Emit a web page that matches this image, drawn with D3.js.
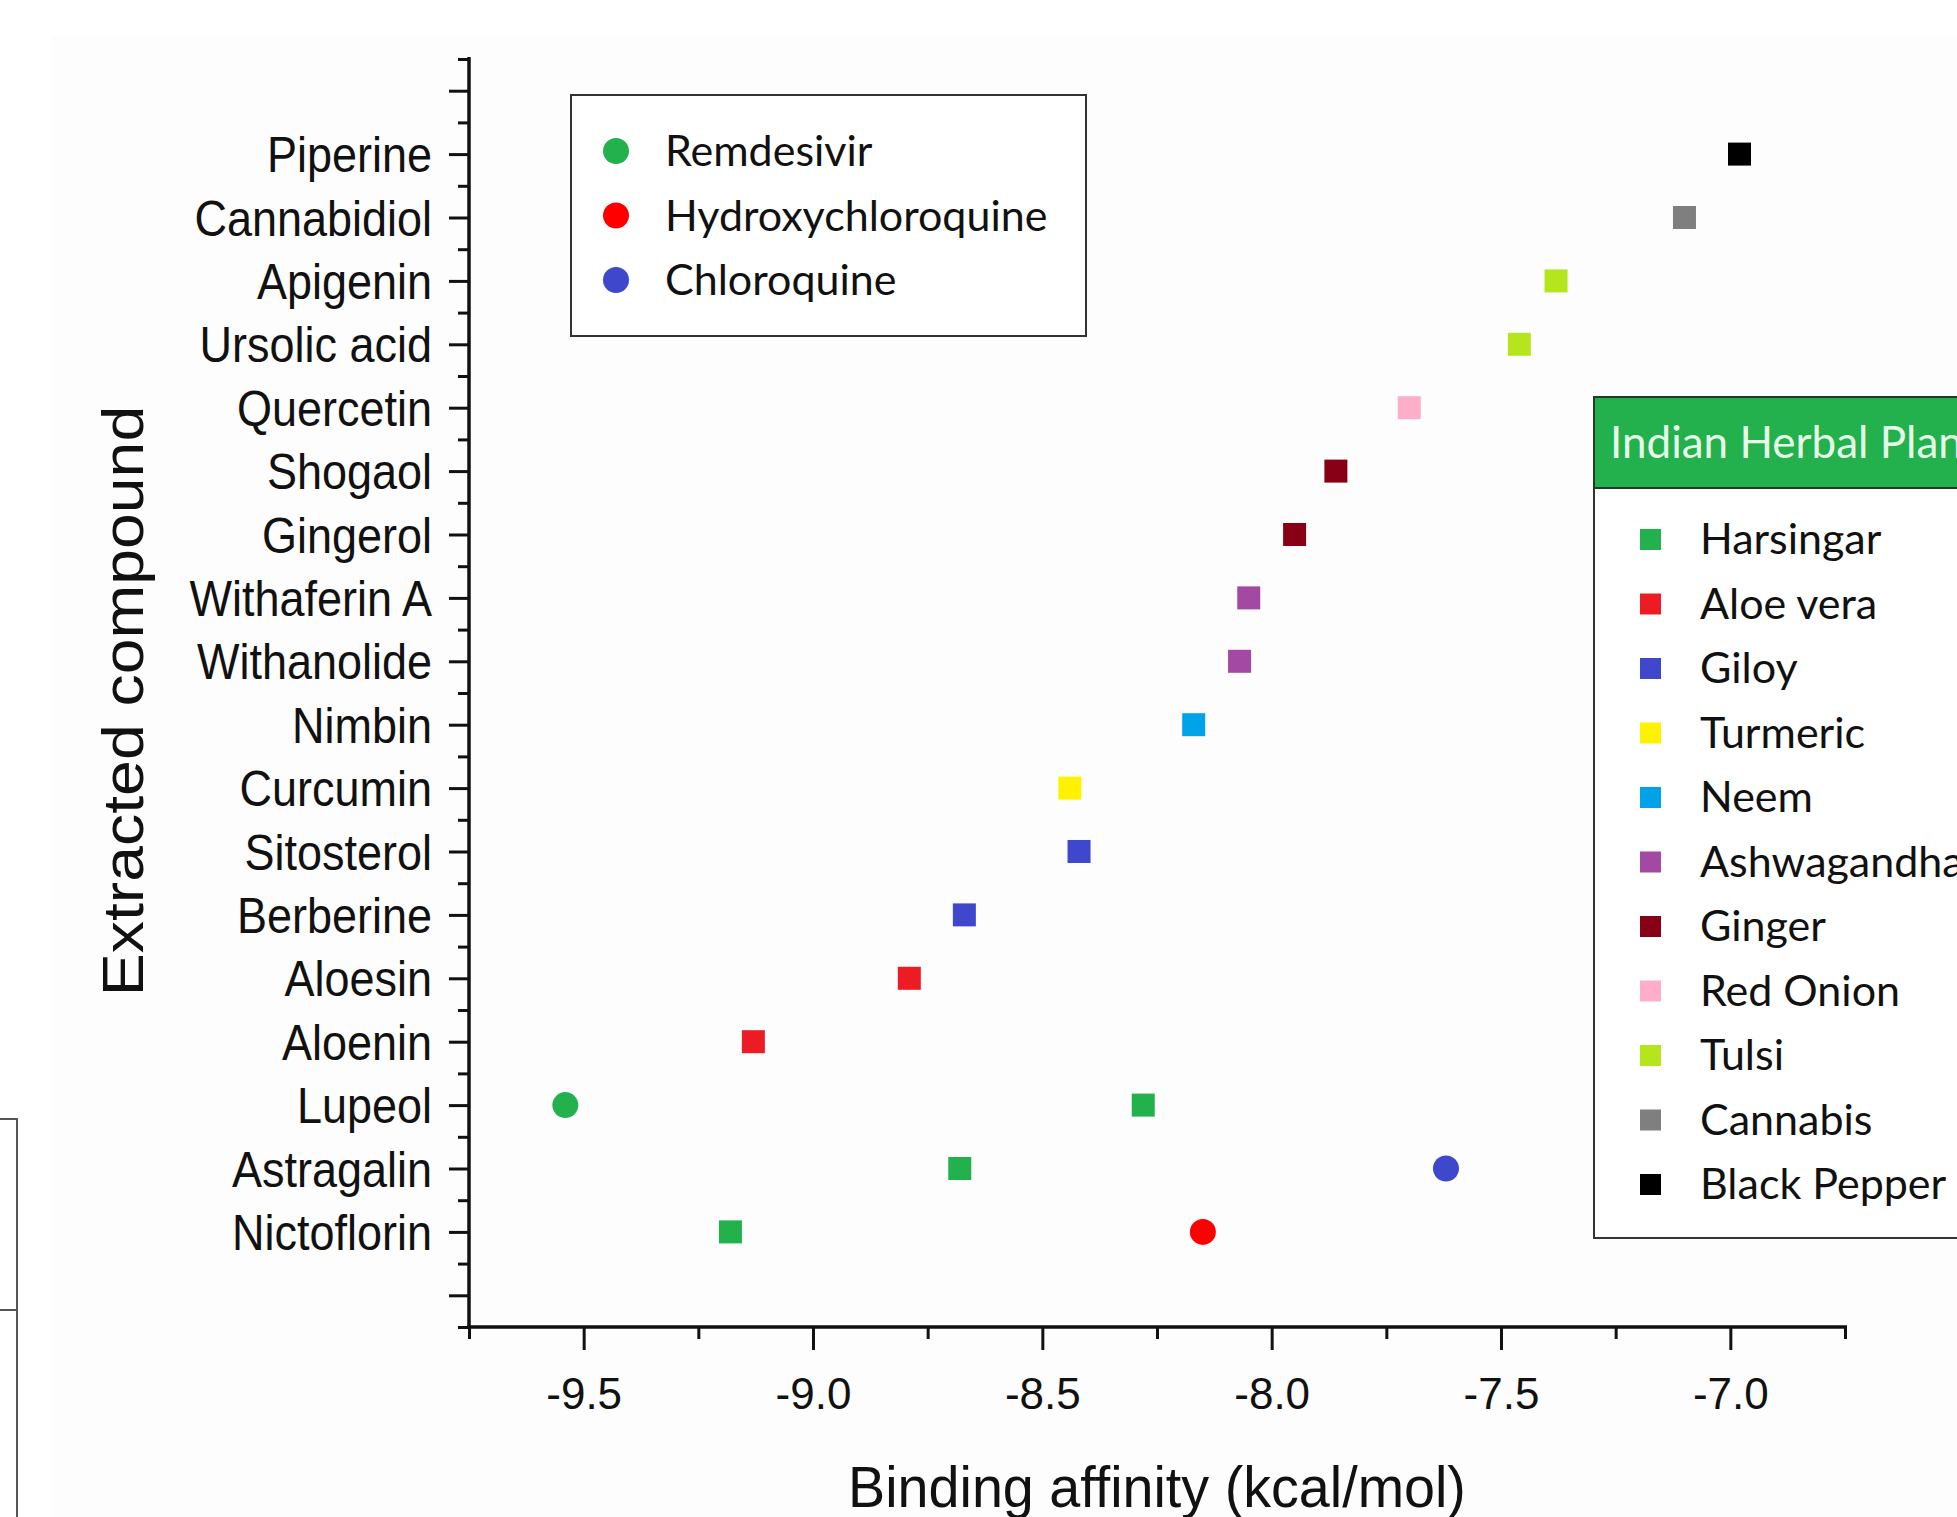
<!DOCTYPE html>
<html>
<head>
<meta charset="utf-8">
<script src="https://cdn.jsdelivr.net/npm/d3@7"></script>
<style>
  html, body { margin: 0; padding: 0; background: #fff; }
  svg { display: block; }
  .axis path, .axis line { stroke: #111; }
  .axis text { fill: #111; font-family: "Liberation Sans", Arial, sans-serif; }
  .legend text { font-family: Lato, "Open Sans", sans-serif; fill: #111; }
</style>
</head>
<body>
<svg id="chart" width="1957" height="1517"></svg>
<script>
// compounds, top to bottom
const compounds = ['Piperine', 'Cannabidiol', 'Apigenin', 'Ursolic acid', 'Quercetin', 'Shogaol',
  'Gingerol', 'Withaferin A', 'Withanolide', 'Nimbin', 'Curcumin', 'Sitosterol', 'Berberine',
  'Aloesin', 'Aloenin', 'Lupeol', 'Astragalin', 'Nictoflorin'];
const affinity = [-6.98, -7.10, -7.38, -7.46, -7.70, -7.86, -7.95, -8.05, -8.07, -8.17,
  -8.44, -8.42, -8.67, -8.79, -9.13, -8.28, -8.68, -9.18];
const source = ['Black Pepper', 'Cannabis', 'Tulsi', 'Tulsi', 'Red Onion', 'Ginger', 'Ginger',
  'Ashwagandha', 'Ashwagandha', 'Neem', 'Turmeric', 'Giloy', 'Giloy', 'Aloe vera', 'Aloe vera',
  'Harsingar', 'Harsingar', 'Harsingar'];

const plants = ['Harsingar', 'Aloe vera', 'Giloy', 'Turmeric', 'Neem', 'Ashwagandha', 'Ginger',
  'Red Onion', 'Tulsi', 'Cannabis', 'Black Pepper'];
const plantColors = ['#22b14c', '#ed1c24', '#3f48cc', '#fff200', '#00a2e8', '#a349a4', '#880015',
  '#ffaec9', '#b5e61d', '#7f7f7f', '#000000'];

// reference drugs
const drugs = ['Remdesivir', 'Hydroxychloroquine', 'Chloroquine'];
const drugValues = [-9.54, -8.15, -7.62];
const drugRows = ['Lupeol', 'Nictoflorin', 'Astragalin'];
const drugColors = ['#22b14c', '#ff0000', '#3f48cc'];

const xTicks = [-9.5, -9.0, -8.5, -8.0, -7.5, -7.0];

const svg = d3.select('#chart');

// faint panel of the scanned figure
svg.append('rect').attr('x', 52).attr('y', 35).attr('width', 1905).attr('height', 1482)
  .attr('fill', '#fdfdfd');

// bit of the neighbouring figure at the left edge
svg.append('path')
  .attr('d', 'M0,1119H17V1517M0,1310H17')
  .attr('fill', 'none').attr('stroke', '#555').attr('stroke-width', 2);

const x = d3.scaleLinear().domain([-9.75, -6.75]).range([469, 1845]);
const y = d3.scaleLinear().domain([-1.5, compounds.length + 0.5]).range([59, 1327]);
const rowY = name => y(compounds.indexOf(name));

// x axis
const minorX = d3.range(-9.75, -6.74, 0.5);
const gx = svg.append('g').attr('class', 'axis').attr('transform', 'translate(0,1327)');
gx.call(d3.axisBottom(x).tickValues(minorX).tickSize(12).tickFormat(''))
  .call(g => g.select('.domain').remove());
gx.append('g')
  .call(d3.axisBottom(x).tickValues(xTicks).tickSize(23).tickPadding(28).tickFormat(d3.format('.1f')))
  .call(g => g.select('.domain').remove())
  .call(g => g.selectAll('text').attr('font-size', 44).text(d => d3.format('.1f')(d).replace('−', '-')));
gx.selectAll('line').attr('stroke-width', 3);
gx.append('line').attr('x1', 467).attr('x2', 1847).attr('stroke', '#111').attr('stroke-width', 3.5);

// y axis
const majorY = d3.range(-1, compounds.length + 1);
const minorY = d3.range(-1.5, compounds.length + 0.6, 1);
const gy = svg.append('g').attr('class', 'axis').attr('transform', 'translate(469,0)');
gy.append('g').call(d3.axisLeft(y).tickValues(minorY).tickSize(11).tickFormat(''))
  .call(g => g.select('.domain').remove());
const sx = 0.9;
gy.append('g')
  .call(d3.axisLeft(y).tickValues(majorY).tickSize(20).tickPadding(17)
    .tickFormat(i => compounds[i] || ''))
  .call(g => g.select('.domain').remove())
  .call(g => g.selectAll('text')
    .attr('font-size', 50)
    .attr('x', -37 / sx)
    .attr('dy', '0.35em')
    .attr('transform', `scale(${sx},1)`));
gy.selectAll('line').attr('stroke-width', 3);
gy.append('line').attr('y1', 57).attr('y2', 1329).attr('stroke', '#111').attr('stroke-width', 3.5);

// axis titles
svg.append('text')
  .attr('transform', 'translate(1157,1507) scale(0.96,1)')
  .attr('text-anchor', 'middle')
  .attr('font-family', '"Liberation Sans", Arial, sans-serif')
  .attr('font-size', 58).attr('fill', '#111')
  .text('Binding affinity (kcal/mol)');

svg.append('text')
  .attr('transform', 'translate(143,701) rotate(-90) scale(1.11,1)')
  .attr('text-anchor', 'middle')
  .attr('font-family', '"Liberation Sans", Arial, sans-serif')
  .attr('font-size', 58).attr('fill', '#111')
  .text('Extracted compound');

// compound points
const color = d3.scaleOrdinal().domain(plants).range(plantColors);
const sq = 23;
svg.append('g').selectAll('rect')
  .data(compounds)
  .join('rect')
  .attr('x', (d, i) => x(affinity[i]) - sq / 2)
  .attr('y', (d, i) => y(i) - sq / 2)
  .attr('width', sq).attr('height', sq)
  .attr('fill', (d, i) => color(source[i]));

// drug points
svg.append('g').selectAll('circle')
  .data(drugs)
  .join('circle')
  .attr('cx', (d, i) => x(drugValues[i]))
  .attr('cy', (d, i) => rowY(drugRows[i]))
  .attr('r', 13)
  .attr('fill', (d, i) => drugColors[i]);

// legend: drugs
const leg1 = svg.append('g').attr('class', 'legend');
leg1.append('rect').attr('x', 571).attr('y', 95).attr('width', 515).attr('height', 241)
  .attr('fill', '#fff').attr('stroke', '#333').attr('stroke-width', 2);
const l1 = leg1.selectAll('g.item').data(drugs).join('g').attr('class', 'item')
  .attr('transform', (d, i) => `translate(0,${151 + i * 64.5})`);
l1.append('circle').attr('cx', 616).attr('r', 13).attr('fill', (d, i) => drugColors[i]);
l1.append('text').attr('x', 665).attr('y', 15).attr('font-size', 43).text(d => d);

// legend: plants
const leg2 = svg.append('g').attr('class', 'legend');
leg2.append('rect').attr('x', 1594).attr('y', 397).attr('width', 420).attr('height', 841)
  .attr('fill', '#fff').attr('stroke', '#333').attr('stroke-width', 2);
leg2.append('rect').attr('x', 1594).attr('y', 397).attr('width', 420).attr('height', 91)
  .attr('fill', '#22b14c').attr('stroke', '#1f3d26').attr('stroke-width', 2);
leg2.append('text').attr('x', 1610).attr('y', 458).attr('font-size', 44)
  .style('fill', '#e6fbe8').text('Indian Herbal Plants');
const l2 = leg2.selectAll('g.item').data(plants).join('g').attr('class', 'item')
  .attr('transform', (d, i) => `translate(0,${539 + i * 64.5})`);
l2.append('rect').attr('x', 1640).attr('y', -10).attr('width', 21).attr('height', 21)
  .attr('fill', d => color(d));
l2.append('text').attr('x', 1700).attr('y', 15).attr('font-size', 43).text(d => d);
</script>
</body>
</html>
